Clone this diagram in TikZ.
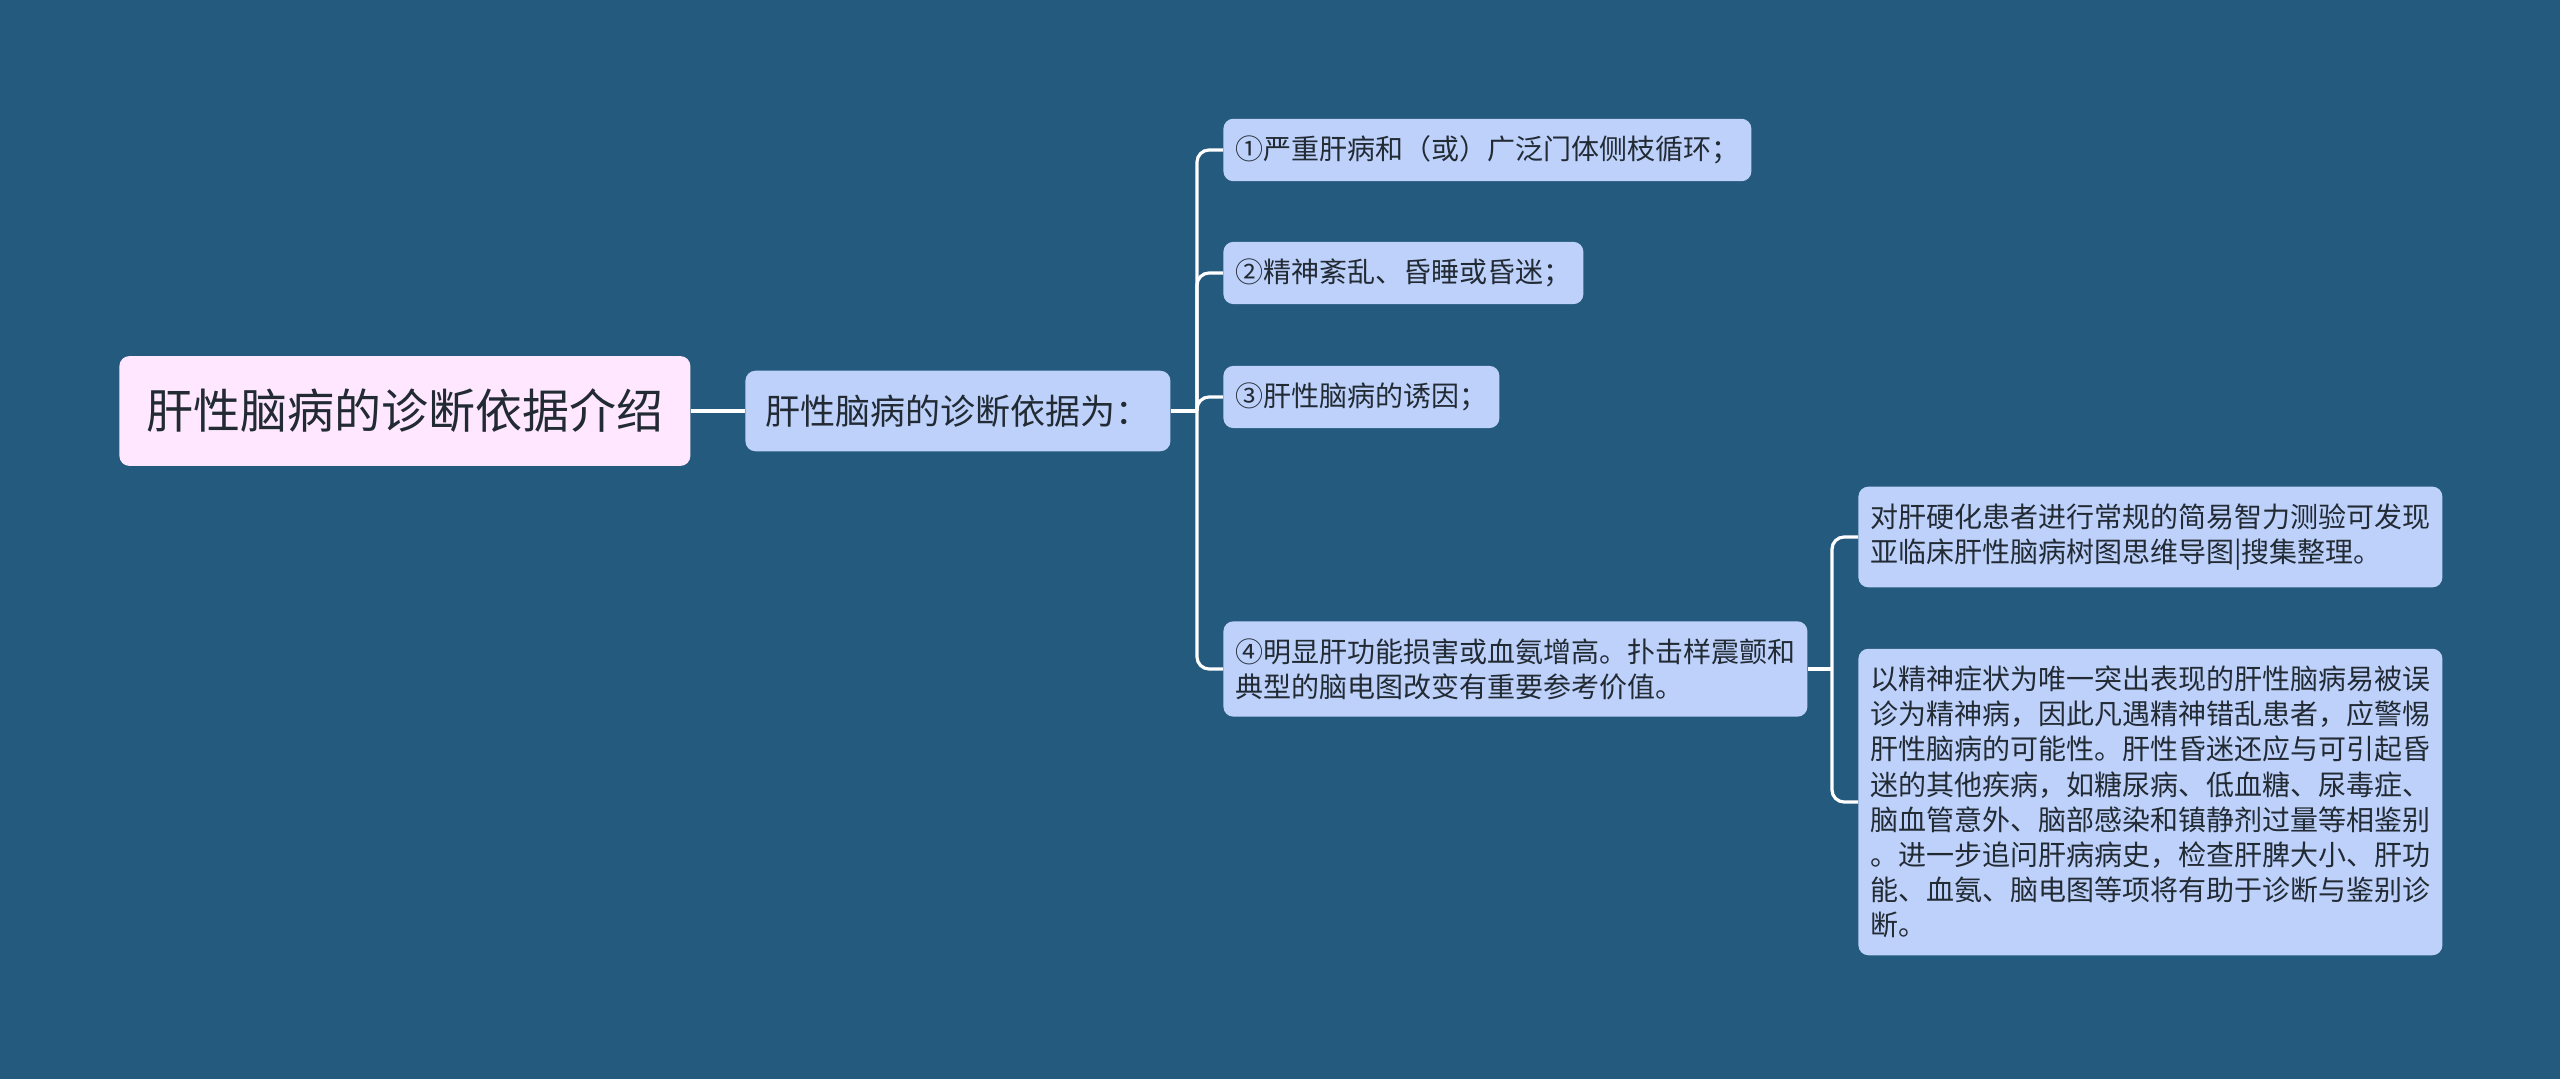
\documentclass[tikz,border=0pt]{standalone}
\usepackage{fontspec}
\setmainfont{Noto Sans CJK SC}
\definecolor{bgblue}{HTML}{245A7D}
\definecolor{rootpink}{HTML}{FFE8FF}
\definecolor{nodeblue}{HTML}{BDD1FB}
\definecolor{inkdark}{HTML}{222A33}
\begin{document}
\begin{tikzpicture}[
		x=0.5pt, y=-0.5pt,
		every node/.style={text=inkdark, rounded corners=5pt, align=left},
		rootbox/.style={fill=rootpink, font=\fontsize{23.5}{28}\selectfont, inner xsep=13.5pt, inner ysep=16.5pt, anchor=west},
		mainbox/.style={fill=nodeblue, font=\fontsize{17.5}{21}\selectfont, inner xsep=10pt, inner ysep=12pt, anchor=west},
		leafbox/.style={fill=nodeblue, font=\fontsize{14}{17.6}\selectfont, inner xsep=6pt, inner ysep=8.5pt, anchor=west},
		link/.style={draw=white, line width=1.6pt, rounded corners=6pt}
		]
		\fill[bgblue] (0,0) rectangle (2560,1079);
		\useasboundingbox (0,0) rectangle (2560,1079);
		% nodes
		\node[rootbox] (root) at (119,411) {肝性脑病的诊断依据介绍};
		\node[mainbox] (main) at (745,411) {肝性脑病的诊断依据为：};
		\node[leafbox] (c1) at (1223,150) {①严重肝病和（或）广泛门体侧枝循环；};
		\node[leafbox] (c2) at (1223,273) {②精神紊乱、昏睡或昏迷；};
		\node[leafbox] (c3) at (1223,397) {③肝性脑病的诱因；};
		\node[leafbox] (c4) at (1223,669) {④明显肝功能损害或血氨增高。扑击样震颤和\\典型的脑电图改变有重要参考价值。};
		\node[leafbox] (g1) at (1858,537) {对肝硬化患者进行常规的简易智力测验可发现\\亚临床肝性脑病树图思维导图|搜集整理。};
		\node[leafbox] (g2) at (1858,802) {以精神症状为唯一突出表现的肝性脑病易被误\\诊为精神病，因此凡遇精神错乱患者，应警惕\\肝性脑病的可能性。肝性昏迷还应与可引起昏\\迷的其他疾病，如糖尿病、低血糖、尿毒症、\\脑血管意外、脑部感染和镇静剂过量等相鉴别\\。进一步追问肝病病史，检查肝脾大小、肝功\\能、血氨、脑电图等项将有助于诊断与鉴别诊\\断。};
		% connectors
		\coordinate (j1) at (1197,411);
		\coordinate (j2) at (1832,669);
		\draw[link] (root.east) -- (main.west);
		\draw[link] (main.east) -- (j1);
		\foreach \leaf in {c1,c2,c3,c4}
			\draw[link] (j1) |- (\leaf.west);
		\draw[link] (c4.east) -- (j2);
		\foreach \leaf in {g1,g2}
			\draw[link] (j2) |- (\leaf.west);
	\end{tikzpicture}
\end{document}
